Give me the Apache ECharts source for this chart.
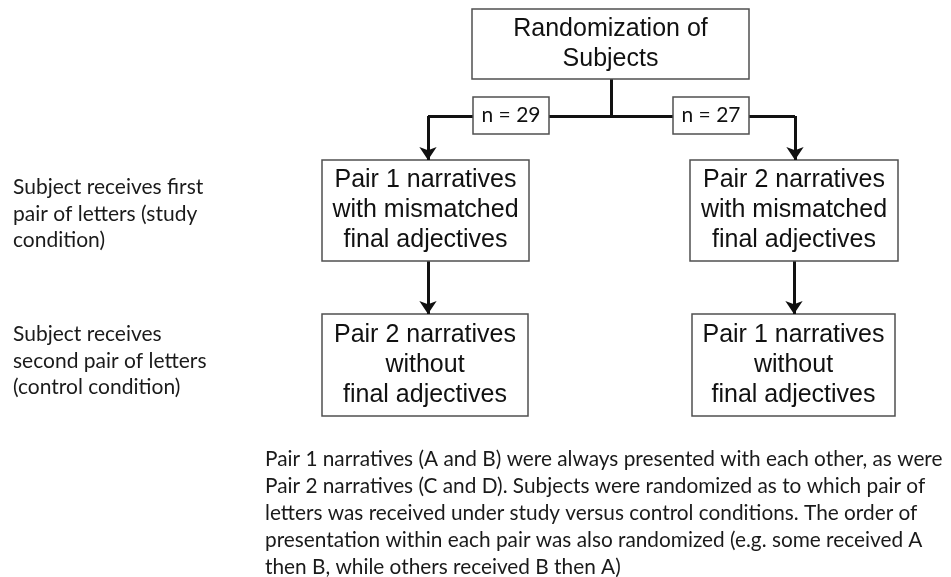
<!DOCTYPE html>
<html>
<head>
<meta charset="utf-8">
<script src="https://cdn.jsdelivr.net/npm/echarts@6/dist/echarts.min.js"></script>
<style>
  html, body { margin: 0; padding: 0; background: #fff; }
  #chart { width: 951px; height: 577px; }
</style>
</head>
<body>
<div id="chart"></div>
<script>
// box texts (top box, n labels, four narrative boxes)
const boxTexts = [
  'Randomization of\nSubjects',
  'n = 29',
  'n = 27',
  'Pair 1 narratives\nwith mismatched\nfinal adjectives',
  'Pair 2 narratives\nwith mismatched\nfinal adjectives',
  'Pair 2 narratives\nwithout\nfinal adjectives',
  'Pair 1 narratives\nwithout\nfinal adjectives'
];
const smallBoxes = [1, 2];

// stage labels on the left
const stageLabels = [
  'Subject receives first\npair of letters (study\ncondition)',
  'Subject receives\nsecond pair of letters\n(control condition)'
];

// note under the chart
const noteLines = [
  'Pair 1 narratives (A and B) were always presented with each other, as were',
  'Pair 2 narratives (C and D). Subjects were randomized as to which pair of',
  'letters was received under study versus control conditions. The order of',
  'presentation within each pair was also randomized (e.g. some received A',
  'then B, while others received B then A)'
];

// layout, in page units (x0, y0, x1, y1)
const boxRects = [
  [472, 9, 749, 79],
  [473, 97, 549, 134],
  [673, 97, 749, 134],
  [322, 160, 529, 261],
  [690, 160, 898, 261],
  [322, 314, 528, 416],
  [692, 314, 895, 416]
];
const stagePos = [[13, 214], [13, 361]];
const notePos = [265, 513];

// connectors without heads
const stemPaths = [
  [[611, 79], [611, 116]],
  [[428, 116], [795, 116]],
  [[428, 116], [428, 140]],
  [[795, 116], [795, 140]],
  [[428, 261], [428, 295]],
  [[794, 261], [794, 295]]
];
// short segments ending in an arrow head
const arrowPaths = [
  [[428, 138], [428, 160]],
  [[795, 138], [795, 160]],
  [[428, 292], [428, 314]],
  [[794, 292], [794, 314]]
];

const chart = echarts.init(document.getElementById('chart'));

const lineStyle = { color: '#111', width: 3, opacity: 1 };

const option = {
  animation: false,
  grid: { left: 0, right: 0, top: 0, bottom: 0 },
  xAxis: { type: 'value', min: 0, max: 951, show: false },
  yAxis: { type: 'value', min: 0, max: 577, inverse: true, show: false },
  series: [
    {
      type: 'lines',
      coordinateSystem: 'cartesian2d',
      z: 1,
      symbol: 'none',
      lineStyle: lineStyle,
      data: stemPaths.map(p => ({ coords: p }))
    },
    {
      type: 'lines',
      coordinateSystem: 'cartesian2d',
      z: 10,
      symbol: ['none', 'arrow'],
      symbolSize: [13, 13],
      lineStyle: lineStyle,
      data: arrowPaths.map(p => ({ coords: p }))
    },
    {
      type: 'custom',
      z: 5,
      data: boxRects.map((r, i) => [r[0], r[1], r[2], r[3], i]),
      renderItem: (params, api) => {
        const i = api.value(4);
        const p0 = api.coord([api.value(0), api.value(1)]);
        const p1 = api.coord([api.value(2), api.value(3)]);
        const small = smallBoxes.includes(i);
        return {
          type: 'group',
          children: [
            {
              type: 'rect',
              shape: { x: p0[0], y: p0[1], width: p1[0] - p0[0], height: p1[1] - p0[1] },
              style: { fill: '#fff', stroke: '#505050', lineWidth: 1.5 }
            },
            {
              type: 'text',
              x: (p0[0] + p1[0]) / 2,
              y: (p0[1] + p1[1]) / 2,
              style: {
                text: boxTexts[i],
                align: 'center',
                verticalAlign: 'middle',
                fill: '#111',
                font: small ? '21px Lato' : '25px "Liberation Sans"',
                lineHeight: small ? 22 : 30
              }
            }
          ]
        };
      }
    },
    {
      type: 'custom',
      z: 5,
      data: stagePos.map((p, i) => [p[0], p[1], i]),
      renderItem: (params, api) => {
        const pt = api.coord([api.value(0), api.value(1)]);
        return {
          type: 'text',
          x: pt[0],
          y: pt[1],
          style: {
            text: stageLabels[api.value(2)],
            align: 'left',
            verticalAlign: 'middle',
            fill: '#1a1a1a',
            font: '21px Lato',
            lineHeight: 26.5
          }
        };
      }
    },
    {
      type: 'custom',
      z: 5,
      data: [[notePos[0], notePos[1]]],
      renderItem: (params, api) => {
        const pt = api.coord([api.value(0), api.value(1)]);
        return {
          type: 'text',
          x: pt[0],
          y: pt[1],
          style: {
            text: noteLines.join('\n'),
            align: 'left',
            verticalAlign: 'middle',
            fill: '#1a1a1a',
            font: '20.8px Lato',
            lineHeight: 27
          }
        };
      }
    }
  ]
};

chart.setOption(option);
</script>
</body>
</html>
